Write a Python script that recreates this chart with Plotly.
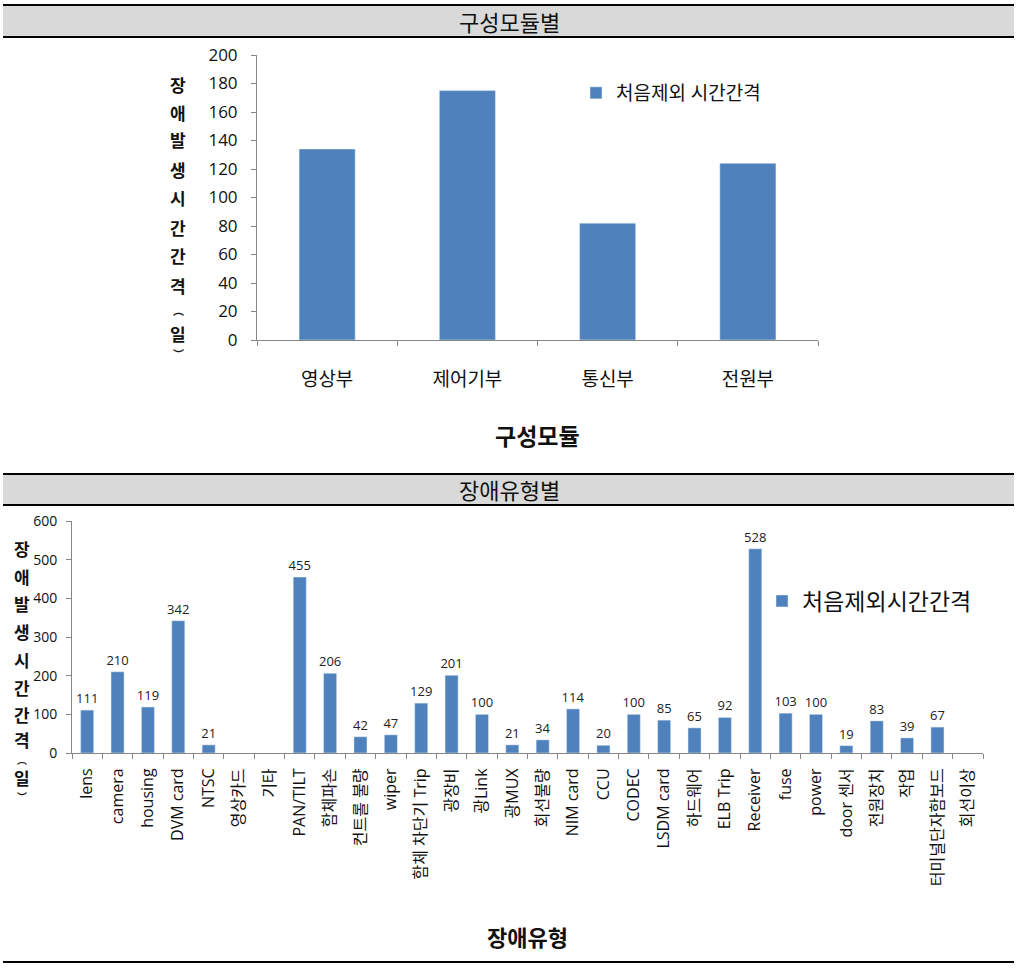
import plotly.graph_objects as go

# ---------------- data ----------------
module_cats = ["영상부", "제어기부", "통신부", "전원부"]
module_vals = [134, 175, 82, 124]
module_series = "처음제외 시간간격"

fault_cats = ["lens", "camera", "housing", "DVM card", "NTSC", "영상카드", "기타",
              "PAN/TILT", "함체파손", "컨트롤 불량", "wiper", "함체 차단기 Trip",
              "광장비", "광Link", "광MUX", "회선불량", "NIM card", "CCU", "CODEC",
              "LSDM card", "하드웨어", "ELB Trip", "Receiver", "fuse", "power",
              "door 센서", "전원장치", "작업", "터미널단자함보드", "회선이상"]
fault_vals = [111, 210, 119, 342, 21, None, None, 455, 206, 42, 47, 129, 201, 100,
              21, 34, 114, 20, 100, 85, 65, 92, 528, 103, 100, 19, 83, 39, 67, None]
fault_series = "처음제외시간간격"

top_header = "구성모듈별"
bottom_header = "장애유형별"
top_xtitle = "구성모듈"
bottom_xtitle = "장애유형"
ytitle_chars = ["장", "애", "발", "생", "시", "간", "간", "격", "︵", "일", "︶"]

# ---------------- helpers ----------------
W, H = 1019, 970
OFF = 0  # body margin removed by post_script below
def fx(p): return (p - OFF) / W
def fy(p): return 1 - (p - OFF) / H

FONT = "Open Sans, Noto Sans CJK KR, sans-serif"
KFONT = "Noto Sans CJK KR, sans-serif"
BAR = "#4F81BD"
AX = "#868686"

fig = go.Figure()
fig.add_trace(go.Bar(x=module_cats, y=module_vals, name=module_series,
                     marker_color=BAR, xaxis="x", yaxis="y", legend="legend",
                     width=0.4, showlegend=True, hoverinfo="x+y"))
fig.add_trace(go.Bar(x=fault_cats, y=fault_vals, name=fault_series,
                     marker_color=BAR, xaxis="x2", yaxis="y2", legend="legend2",
                     width=0.43, showlegend=True,
                     text=[("" if v is None else str(v)) for v in fault_vals],
                     textposition="outside", constraintext="none",
                     textfont=dict(size=13, color="#222"),
                     cliponaxis=False))

axis_common = dict(showline=True, linecolor=AX, linewidth=1, ticks="outside",
                   tickcolor=AX, ticklen=5, showgrid=False, zeroline=False,
                   automargin=False)

fig.update_layout(
    width=W, height=H,
    margin=dict(l=0, r=0, t=0, b=0, autoexpand=False),
    paper_bgcolor="white", plot_bgcolor="white",
    font=dict(family=FONT, color="#000"),
    showlegend=True,
    xaxis=dict(domain=[fx(257), fx(818)], anchor="y", type="category",
               tickson="boundaries", ticklabelstandoff=22,
               tickfont=dict(size=19, color="#111"), **axis_common),
    yaxis=dict(domain=[fy(340), fy(55)], anchor="x", range=[0, 200], dtick=20,
               ticklabelstandoff=10,
               tickfont=dict(size=17, color="#111"), **axis_common),
    xaxis2=dict(domain=[fx(72), fx(983)], anchor="y2", type="category",
                tickson="boundaries", tickangle=-90, ticklabelstandoff=8,
                tickfont=dict(size=16, color="#111"), **axis_common),
    yaxis2=dict(domain=[fy(753), fy(521)], anchor="x2", range=[0, 600], dtick=100,
                ticklabelstandoff=6,
                tickfont=dict(size=14, color="#111"), **axis_common),
    legend=dict(x=fx(576), y=fy(93), xanchor="left", yanchor="middle",
                font=dict(size=19, color="#111"), bgcolor="rgba(0,0,0,0)"),
    legend2=dict(x=fx(762), y=fy(601), xanchor="left", yanchor="middle",
                 font=dict(size=23, color="#111"), bgcolor="rgba(0,0,0,0)"),
)

# header bars and rules
shapes = []
for (t, b) in [(5, 37), (474, 505)]:
    shapes.append(dict(type="rect", xref="paper", yref="paper",
                       x0=fx(3), x1=fx(1014), y0=fy(b), y1=fy(t),
                       fillcolor="#D9D9D9", line=dict(width=0), layer="below"))
    for yy in (t, b):
        shapes.append(dict(type="line", xref="paper", yref="paper",
                           x0=fx(3), x1=fx(1014), y0=fy(yy), y1=fy(yy),
                           line=dict(color="#000", width=2)))
shapes.append(dict(type="line", xref="paper", yref="paper",
                   x0=fx(3), x1=fx(1014), y0=fy(962), y1=fy(962),
                   line=dict(color="#000", width=2)))
fig.update_layout(shapes=shapes)

def note(text, xp, yp, size, bold=False, angle=0):
    return dict(text=("<b>" + text + "</b>") if bold else text,
                x=fx(xp), y=fy(yp), xref="paper", yref="paper",
                xanchor="center", yanchor="middle", showarrow=False,
                textangle=angle, font=dict(size=size, color="#111", family=KFONT))

ann = [note(top_header, 509, 21, 22), note(bottom_header, 509, 489, 22),
       note(top_xtitle, 537, 435, 23, bold=True),
       note(bottom_xtitle, 527, 936, 22, bold=True)]

top_pos = [84, 112, 140, 169, 198, 227, 256, 285, 310, 333, 354]
bot_pos = [548, 576, 603, 631, 659, 687, 714, 739, 759, 777, 796]
for ch, yp in zip(ytitle_chars, top_pos):
    sz = 11 if ch in "︵︶" else 17
    ann.append(note(ch, 178, yp, sz, bold=True))
for ch, yp in zip(ytitle_chars, bot_pos):
    sz = 10 if ch in "︵︶" else 17
    ann.append(note(ch, 22, yp, sz, bold=True))
fig.update_layout(annotations=ann)

fig.write_html("out.html", config={"displayModeBar": False},
               post_script="document.body.style.margin='0';")
